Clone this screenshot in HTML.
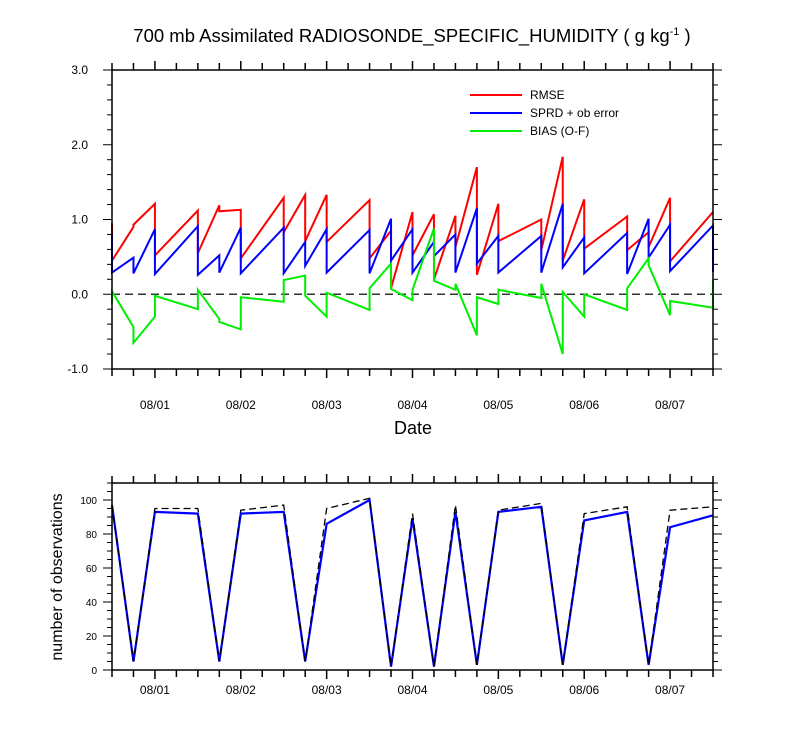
<!DOCTYPE html>
<html><head><meta charset="utf-8"><style>
body{margin:0;background:#fff;}
svg{display:block;font-family:"Liberation Sans",sans-serif;}
</style></head><body>
<svg id="chart" width="800" height="750"></svg>
<script>
// ---- top panel data (knot index: 6-hourly steps from 07/31 12Z; duplicates = jumps)
const knots = [0,1,2,4,5,6,8,9,10,12,13,14,15,16,17,18,20,21,22,24,25,26,28];
const rmseIn  = [0.95,0.90,1.21,1.12,1.19,1.13,1.29,1.33,1.33,1.26,0.85,1.10,1.07,1.05,1.70,1.21,1.00,1.84,1.27,1.04,0.83,1.29,1.10];
const rmseOut = [0.45,0.93,0.52,0.55,1.11,0.48,0.83,0.71,0.70,0.48,0.08,0.52,0.20,0.63,0.26,0.71,0.59,0.45,0.61,0.59,0.63,0.44,1.10];
const sprdIn  = [0.81,0.49,0.87,0.91,0.52,0.89,0.89,0.70,0.87,0.86,1.01,0.87,0.70,0.80,1.15,0.78,0.78,1.21,0.76,0.82,1.01,0.93,0.92];
const sprdOut = [0.29,0.28,0.27,0.26,0.29,0.28,0.28,0.38,0.29,0.28,0.45,0.29,0.51,0.29,0.41,0.29,0.29,0.36,0.28,0.27,0.49,0.31,0.30];
const biasIn  = [-0.12,-0.44,-0.30,-0.20,-0.33,-0.47,-0.10,0.25,-0.30,-0.21,0.41,-0.08,0.88,0.06,-0.55,-0.13,-0.05,-0.80,-0.30,-0.21,0.48,-0.28,-0.18];
const biasOut = [0.04,-0.65,-0.02,0.06,-0.37,-0.04,0.19,-0.02,0.02,0.08,0.07,0.06,0.18,0.14,-0.04,0.06,0.14,0.03,0.00,0.08,0.39,-0.09,0.19];
const topTicks = [-1,0,1,2,3];
const topTickLabels = ["-1.0","0.0","1.0","2.0","3.0"];
const dayLabels = ["08/01","08/02","08/03","08/04","08/05","08/06","08/07"];
const dayKnots = [2,6,10,14,18,22,26];
// ---- bottom panel data
const obsKnots = [0,1,2,4,5,6,8,9,10,12,13,14,15,16,17,18,20,21,22,24,25,26,28];
const obsUsed  = [97,5,93,92,5,92,93,5,86,100,2,89,2,93,3,93,96,3,88,93,3,84,91];
const obsTotal = [97,5,95,95,5,94,97,5,95,101,2,92,2,97,3,94,98,3,92,96,3,94,96];
const botTicks = [0,20,40,60,80,100];

const NS="http://www.w3.org/2000/svg";
const svg=document.getElementById('chart');
function mk(tag,attrs,parent){const e=document.createElementNS(NS,tag);for(const k in attrs)e.setAttribute(k,attrs[k]);(parent||svg).appendChild(e);return e;}
const X0=112,X1=713,NK=28;
const xs=k=>X0+(X1-X0)*k/NK;
const T0=70,T1=369,yTop=v=>T1-(v+1)/4*(T1-T0);
const B0=483,B1=670,yBot=v=>B1-v*1.7;

// title
let t=mk('text',{x:412,y:42,'text-anchor':'middle','font-size':18.5});

t.innerHTML='700 mb Assimilated RADIOSONDE_SPECIFIC_HUMIDITY ( g kg<tspan dy="-7" font-size="11">-1</tspan><tspan dy="7"> )</tspan>';

function xTicks(top,bot,g){
  for(let k=0;k<=NK;k++){
    const len=dayKnots.includes(k)?9:7;
    mk('line',{x1:xs(k),x2:xs(k),y1:bot,y2:bot+len,stroke:'#000','stroke-width':1.5},g);
    mk('line',{x1:xs(k),x2:xs(k),y1:top,y2:top-len,stroke:'#000','stroke-width':1.5},g);
  }
}
// ---- top panel
const gt=mk('g',{});
for(let v=-1;v<=3.001;v+=0.2){
  const major=Math.abs(v-Math.round(v))<0.01;const len=major?9:5;
  mk('line',{x1:X0-len,x2:X0,y1:yTop(v),y2:yTop(v),stroke:'#000','stroke-width':1},gt);
  mk('line',{x1:X1,x2:X1+len,y1:yTop(v),y2:yTop(v),stroke:'#000','stroke-width':1},gt);
}
topTicks.forEach((v,i)=>{const e=mk('text',{x:88,y:yTop(v)+4,'text-anchor':'end','font-size':12},gt);e.textContent=topTickLabels[i];
});
xTicks(T0,T1,gt);
dayLabels.forEach((d,i)=>{const e=mk('text',{x:xs(dayKnots[i]),y:409,'text-anchor':'middle','font-size':12},gt);e.textContent=d;
});
let dt=mk('text',{x:413,y:434,'text-anchor':'middle','font-size':18},gt);dt.textContent='Date';

let zl=mk('line',{x1:X0,x2:X1,y1:yTop(0),y2:yTop(0),stroke:'#333','stroke-width':1.5,'stroke-dasharray':'8,5'},gt);

function series(inA,outA,color,name){
  let pts=[];knots.forEach((k,i)=>{pts.push(xs(k)+','+yTop(inA[i]));pts.push(xs(k)+','+yTop(outA[i]));});
  const p=mk('polyline',{points:pts.join(' '),fill:'none',stroke:color,'stroke-width':2},gt);
  
}
series(rmseIn,rmseOut,'#ff0000','rmse-line');
series(sprdIn,sprdOut,'#0000ff','sprd-line');
series(biasIn,biasOut,'#00ee00','bias-line');
mk('rect',{x:X0,y:T0,width:X1-X0,height:T1-T0,fill:'none',stroke:'#000','stroke-width':1.5},gt);
[['RMSE','#ff0000',95],['SPRD + ob error','#0000ff',113],['BIAS (O-F)','#00ee00',131]].forEach(([lab,c,y])=>{
  const g=mk('g',{},gt);
  mk('line',{x1:470,x2:522,y1:y,y2:y,stroke:c,'stroke-width':2},g);
  const e=mk('text',{x:530,y:y+4,'font-size':12},g);e.textContent=lab;
});
// ---- bottom panel
const gb=mk('g',{});
for(let v=0;v<=110;v+=5){
  const len=v%20===0?9:5;
  mk('line',{x1:X0-len,x2:X0,y1:yBot(v),y2:yBot(v),stroke:'#000','stroke-width':1},gb);
  mk('line',{x1:X1,x2:X1+len,y1:yBot(v),y2:yBot(v),stroke:'#000','stroke-width':1},gb);
}
botTicks.forEach(v=>{const e=mk('text',{x:97,y:yBot(v)+4,'text-anchor':'end','font-size':10},gb);e.textContent=v;
});
xTicks(B0,B1,gb);
dayLabels.forEach((d,i)=>{const e=mk('text',{x:xs(dayKnots[i]),y:694,'text-anchor':'middle','font-size':12},gb);e.textContent=d;
});
let yl=mk('text',{x:0,y:0,'text-anchor':'middle','font-size':16,transform:'translate(62,577) rotate(-90)'},gb);yl.textContent='number of observations';

let pb=mk('polyline',{points:obsKnots.map((k,i)=>xs(k)+','+yBot(obsUsed[i])).join(' '),fill:'none',stroke:'#0000ff','stroke-width':2.2},gb);

let pk=mk('polyline',{points:obsKnots.map((k,i)=>xs(k)+','+yBot(obsTotal[i])).join(' '),fill:'none',stroke:'#000','stroke-width':1.3,'stroke-dasharray':'7,4'},gb);

mk('rect',{x:X0,y:B0,width:X1-X0,height:B1-B0,fill:'none',stroke:'#000','stroke-width':1.5},gb);
</script>
</body></html>
